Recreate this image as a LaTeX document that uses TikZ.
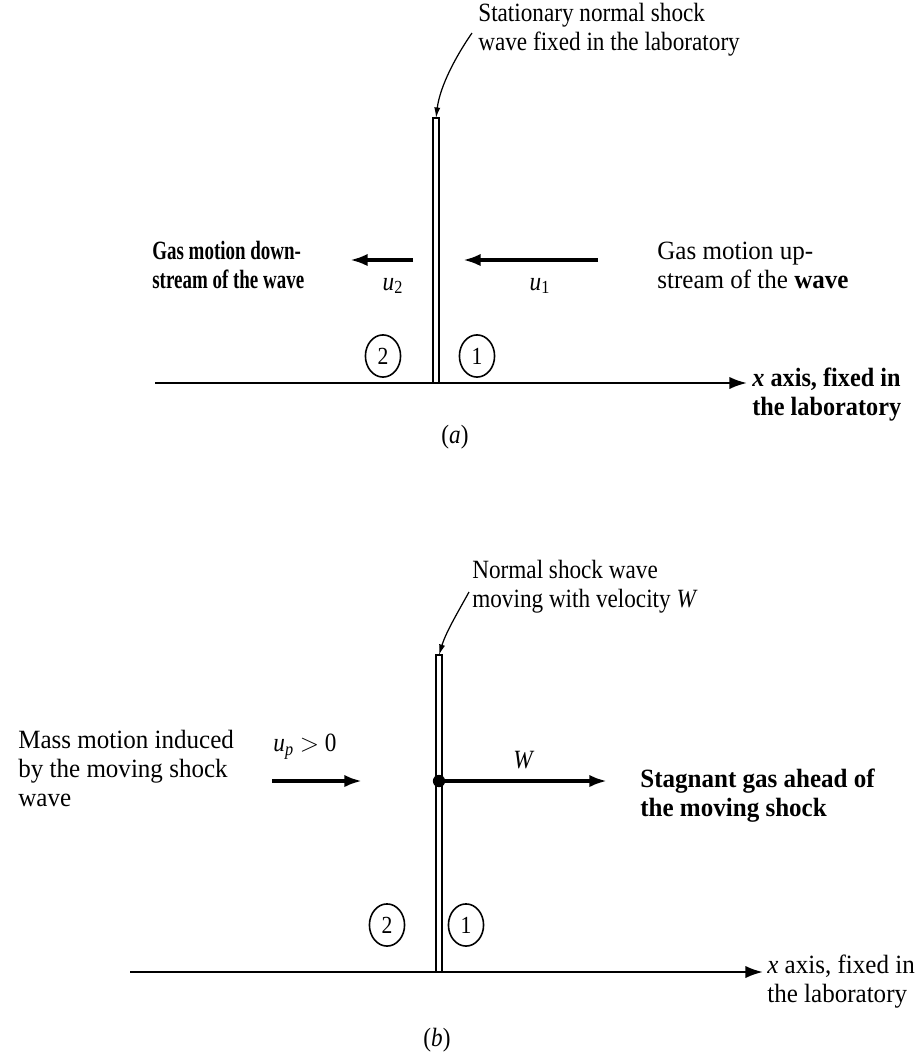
\documentclass[tikz,border=0pt]{standalone}
\usepackage{fontspec}
\setmainfont{Liberation Serif}[FakeStretch=0.88]
\newfontfamily\fnarrow{Liberation Serif}[FakeStretch=0.72]
\newfontfamily\fbold{Liberation Serif}[FakeStretch=0.92]
\newfontfamily\fmid{Liberation Serif}[FakeStretch=0.95]
\usetikzlibrary{arrows.meta,shapes.geometric}
\begin{document}
\begin{tikzpicture}[x=0.02cm,y=-0.02cm,
  lbl/.style={align=left,inner sep=0,anchor=west,font=\fontsize{15}{16.5}\selectfont},
  sym/.style={inner sep=0,font=\fontsize{15}{16}\selectfont\itshape},
  capt/.style={inner sep=0,font=\fontsize{15}{16}\selectfont},
  flow/.style={line width=2pt,-{Latex[length=10pt,width=7pt]}},
  axisline/.style={line width=1.3pt,-{Latex[length=10pt,width=7pt]}},
  shock/.style={line width=0.9pt},
  leader/.style={line width=0.7pt,-{Latex[length=6pt,width=3.5pt]}},
  region/.style={draw,ellipse,line width=0.9pt,minimum width=20pt,minimum height=24pt,inner sep=0,font=\fontsize{14}{14}\selectfont}
]
\useasboundingbox (0,0) rectangle (915,1062);

% ---------- (a) ----------
\node[lbl] (ta) at (478,30) {Stationary normal shock\\wave fixed in the laboratory};
\coordinate (sat) at (436,118);
\coordinate (sab) at (436,383);
\draw[shock] (433,118) rectangle (439,383);
\coordinate (lead1) at (472,33);
\draw[leader] (lead1) .. controls (456,56) and (440,86) .. (sat);

\node[lbl,font=\fontsize{15}{16.5}\selectfont\fnarrow\bfseries] (gda) at (152,265) {Gas motion down-\\stream of the wave};
\node[lbl,font=\fontsize{15}{16.5}\selectfont\fmid] (gua) at (657,265) {Gas motion up-\\stream of the \textbf{wave}};

\coordinate (u2s) at (413,260);
\coordinate (u2e) at (350,260);
\draw[flow] (u2s) -- (u2e);
\node[sym] (u2) at (393,286) {u\textsubscript{\upshape 2}};
\coordinate (u1s) at (598,260);
\coordinate (u1e) at (463,260);
\draw[flow] (u1s) -- (u1e);
\node[sym] (u1) at (540,286) {u\textsubscript{\upshape 1}};

\node[region] (c2a) at (383,356) {2};
\node[region] (c1a) at (477,356) {1};

\coordinate (axa0) at (155,383);
\coordinate (axa1) at (747,383);
\draw[axisline] (axa0) -- (axa1);
\node[lbl,font=\fontsize{15}{16.5}\selectfont\fbold\bfseries] (xla) at (752,395) {\textit{x} axis, fixed in\\the laboratory};
\node[capt] (capa) at (455,437) {(\textit{a})};

% ---------- (b) ----------
\node[lbl] (tb) at (472,587) {Normal shock wave\\moving with velocity \textit{W}};
\coordinate (sbt) at (439,655);
\coordinate (sbb) at (439,972);
\draw[shock] (436,655) rectangle (442,972);
\coordinate (lead2) at (469,592);
\draw[leader] (lead2) .. controls (458,612) and (446,632) .. (sbt);

\node[lbl,font=\fontsize{15}{16.5}\selectfont\fmid] (mm) at (18,768) {Mass motion induced\\by the moving shock\\wave};
\node[sym] (up) at (305,747) {u\textsubscript{p} \upshape$>$ 0};
\coordinate (ups) at (272,781);
\coordinate (upe) at (362,781);
\draw[flow] (ups) -- (upe);

\node[circle,fill,inner sep=0,minimum size=7pt] (dot) at (439,781) {};
\coordinate (we) at (607,781);
\draw[flow] (dot.center) -- (we);
\node[sym] (wl) at (523,760) {W};
\node[lbl,font=\fontsize{15}{16.5}\selectfont\fmid\bfseries] (sg) at (640,796) {Stagnant gas ahead of\\the moving shock};

\node[region] (c2b) at (387,925) {2};
\node[region] (c1b) at (466,925) {1};

\coordinate (axb0) at (130,972);
\coordinate (axb1) at (763,972);
\draw[axisline] (axb0) -- (axb1);
\node[lbl,font=\fontsize{15}{16.5}\selectfont\fmid] (xlb) at (767,982) {\textit{x} axis, fixed in\\the laboratory};
\node[capt] (capb) at (437,1040) {(\textit{b})};
\end{tikzpicture}
\end{document}
